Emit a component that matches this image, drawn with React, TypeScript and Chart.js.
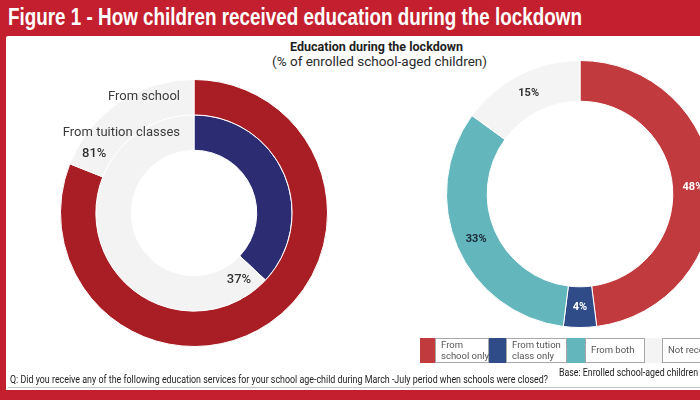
import React, { useEffect, useLayoutEffect, useRef } from "react";
import { Chart, registerables } from "chart.js";
Chart.register(...registerables);

// ---- data ----
const ringLabels = ["From school", "From tuition classes"];
const ringValues = [81, 37];
const ringRest = [19, 63];
const ringColors = ["#a91d25", "#2b2c72"];
const restColor = "#f3f3f3";

const splitCategories = ["From school only", "From tution class only", "From both", "Not received"];
const splitValues = [48, 4, 33, 15];
const splitColors = ["#c13a3e", "#2f4b88", "#63b7bc", "#f4f4f4"];
const splitLabelColors = ["#ffffff", "#ffffff", "#1c2a38", "#333333"];
const legendLines = [["From", "school only"], ["From tution", "class only"], ["From both"], ["Not received"]];

const titleText = "Figure 1 - How children received education during the lockdown";
const subTitle1 = "Education during the lockdown";
const subTitle2 = "(% of enrolled school-aged children)";
const questionText =
  "Q: Did you receive any of the following education services for your school age-child during March -July period when schools were closed?";
const baseText = "Base: Enrolled school-aged children";

const FRAME_RED = "#c41f2e";

function Fit(props: { text: string; left: number; top: number; width: number; font: string; color: string; scaleY?: number }) {
  const ref = useRef<HTMLSpanElement>(null);
  useLayoutEffect(() => {
    const el = ref.current;
    if (!el) return;
    el.style.transform = "none";
    const w = el.getBoundingClientRect().width;
    if (w > 0) el.style.transform = `scale(${props.width / w}, ${props.scaleY ?? 1})`;
  }, [props.text, props.width, props.font]);
  return (
    <span
      ref={ref}
      style={{
        position: "absolute",
        left: props.left,
        top: props.top,
        whiteSpace: "nowrap",
        font: props.font,
        color: props.color,
        transformOrigin: "0 0",
        lineHeight: 1,
      }}
    >
      {props.text}
    </span>
  );
}

const leftLabelPlugin = {
  id: "leftLabels",
  afterDraw(chart: any) {
    const ctx = chart.ctx;
    ctx.save();
    chart.data.datasets.forEach((ds: any, i: number) => {
      const meta = chart.getDatasetMeta(i);
      const arc = meta.data[0] as any;
      const r = (arc.innerRadius + arc.outerRadius) / 2;
      ctx.font = "13px Roboto";
      ctx.fillStyle = "#3c3c3c";
      ctx.textAlign = "right";
      ctx.textBaseline = "middle";
      ctx.fillText(ds.label, arc.x - 14, arc.y - r);
      const a = arc.endAngle + 18 / r;
      ctx.font = "500 13px Roboto";
      ctx.fillStyle = "#333";
      ctx.textAlign = "center";
      ctx.fillText(ds.data[0] + "%", arc.x + Math.cos(a) * r, arc.y + Math.sin(a) * r);
    });
    ctx.restore();
  },
};

const rightLabelPlugin = {
  id: "rightLabels",
  afterDraw(chart: any) {
    const ctx = chart.ctx;
    ctx.save();
    const meta = chart.getDatasetMeta(0);
    meta.data.forEach((arc: any, i: number) => {
      const r = (arc.innerRadius + arc.outerRadius) / 2;
      const a = (arc.startAngle + arc.endAngle) / 2;
      ctx.font = "bold 11px Roboto";
      ctx.fillStyle = splitLabelColors[i];
      ctx.textAlign = "center";
      ctx.textBaseline = "middle";
      ctx.fillText(splitValues[i] + "%", arc.x + Math.cos(a) * r, arc.y + Math.sin(a) * r);
    });
    ctx.restore();
  },
};

export default function App() {
  const leftRef = useRef<HTMLCanvasElement>(null);
  const rightRef = useRef<HTMLCanvasElement>(null);

  useEffect(() => {
    const left = new Chart(leftRef.current!, {
      type: "doughnut",
      data: {
        labels: ["Yes", "No"],
        datasets: ringLabels.map((label, i) => ({
          label,
          data: [ringValues[i], ringRest[i]],
          backgroundColor: [ringColors[i], restColor],
          borderColor: "#ffffff",
          borderWidth: 1,
        })),
      },
      options: {
        animation: false,
        responsive: false,
        cutout: "47%",
        layout: { padding: 0 },
        plugins: { legend: { display: false }, tooltip: { enabled: false } },
      },
      plugins: [leftLabelPlugin],
    } as any);
    const right = new Chart(rightRef.current!, {
      type: "doughnut",
      data: {
        labels: splitCategories,
        datasets: [
          {
            data: splitValues,
            backgroundColor: splitColors,
            borderColor: "#ffffff",
            borderWidth: 1,
          },
        ],
      },
      options: {
        animation: false,
        responsive: false,
        cutout: "69.5%",
        layout: { padding: 0 },
        plugins: { legend: { display: false }, tooltip: { enabled: false } },
      },
      plugins: [rightLabelPlugin],
    } as any);
    return () => {
      left.destroy();
      right.destroy();
    };
  }, []);

  const sqW = [16, 18, 19, 18];
  const txtW = [53, 60, 59, 60];
  let lx = 420;
  const legendCells: any[] = [];
  splitCategories.forEach((cat, i) => {
    legendCells.push(
      <div
        key={"s" + i}
        style={{
          position: "absolute",
          left: lx,
          top: 0,
          width: sqW[i],
          height: 25,
          background: splitColors[i],
          borderRight: "1px solid #a8a8a8",
          boxSizing: "border-box",
        }}
      />
    );
    lx += sqW[i];
    const lines = legendLines[i];
    legendCells.push(
      <div
        key={"t" + i}
        title={cat}
        style={{
          position: "absolute",
          left: lx,
          top: 0,
          width: txtW[i],
          height: 25,
          borderRight: "1px solid #a8a8a8",
          boxSizing: "border-box",
          font: "9.5px Roboto",
          color: "#555",
          lineHeight: "10.5px",
          paddingLeft: 5,
          display: "flex",
          flexDirection: "column",
          justifyContent: "center",
          whiteSpace: "nowrap",
        }}
      >
        {lines.map((l, k) => (
          <div key={k}>{l}</div>
        ))}
      </div>
    );
    lx += txtW[i];
  });

  return (
    <div
      style={{
        position: "fixed",
        left: 0,
        top: 0,
        width: 700,
        height: 400,
        background: FRAME_RED,
        overflow: "hidden",
      }}
    >
      <Fit text={titleText} left={8} top={5} width={574} font="bold 22px 'Liberation Sans', Arial, sans-serif" color="#ffffff" scaleY={1.1} />
      <div style={{ position: "absolute", left: 6, top: 36, width: 694, height: 354, background: "#ffffff", borderTopLeftRadius: 2 }} />
      <div style={{ position: "absolute", left: 8, top: 387, width: 692, height: 1, background: "#c4c4c4" }} />
      <Fit text={subTitle1} left={290} top={41} width={173} font="bold 12.5px Roboto" color="#1e1e1e" />
      <Fit text={subTitle2} left={272} top={56} width={215} font="12.5px Roboto" color="#2a2a2a" />
      <canvas ref={leftRef} width={268} height={268} style={{ position: "absolute", left: 60, top: 79 }} />
      <canvas ref={rightRef} width={268} height={268} style={{ position: "absolute", left: 446, top: 60 }} />
      <div
        style={{
          position: "absolute",
          left: 0,
          top: 338,
          width: 720,
          height: 25,
        }}
      >
        <div
          style={{
            position: "absolute",
            left: 420,
            top: 0,
            width: 300,
            height: 25,
            border: "1px solid #a8a8a8",
            boxSizing: "border-box",
          }}
        />
        {legendCells}
      </div>
      <Fit text={questionText} left={10} top={375} width={538} font="10px Roboto" color="#222" />
      <Fit text={baseText} left={559} top={368} width={139} font="10px Roboto" color="#222" />
    </div>
  );
}
